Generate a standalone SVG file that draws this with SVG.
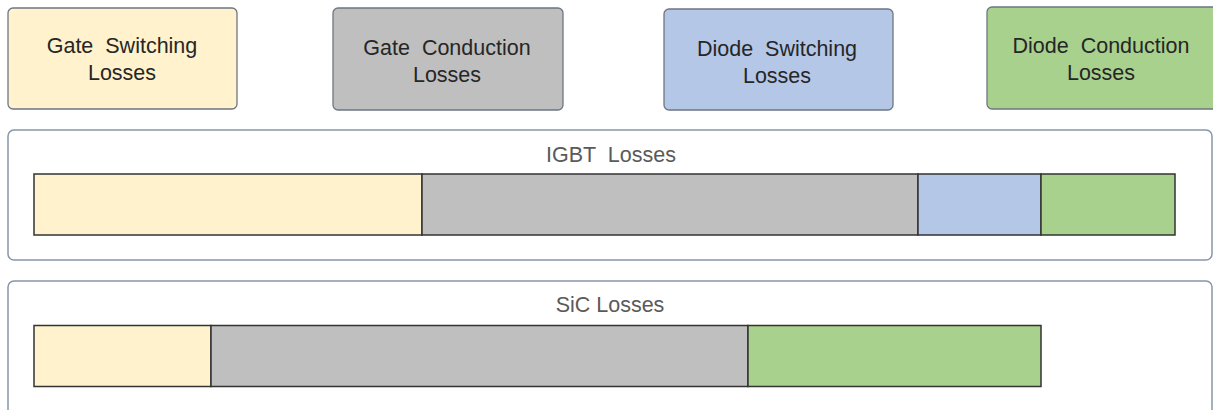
<svg xmlns="http://www.w3.org/2000/svg" width="1213" height="410" viewBox="0 0 1213 410">
<style>
.box{stroke:#6e7683;stroke-width:1.3}
.cont{fill:#ffffff;stroke:#8796ab;stroke-width:1.5}
.seg{stroke:#333333;stroke-width:1.5}
.y{fill:#fff2cc}.g{fill:#bfbfbf}.b{fill:#b4c7e7}.gr{fill:#a9d18e}
.t{font-family:"Liberation Sans",Arial,sans-serif;font-size:21.5px;fill:#262626;text-anchor:middle}
.h{font-family:"Liberation Sans",Arial,sans-serif;font-size:21.5px;fill:#5a5a5a;text-anchor:middle}
</style>
<rect width="1213" height="410" fill="#ffffff"/>
<g id="legend-gate-switching">
<rect class="box y" x="8" y="8" width="229" height="101" rx="5"/>
<text class="t" x="122" y="53" xml:space="preserve">Gate  Switching</text>
<text class="t" x="122" y="80">Losses</text>
</g>
<g id="legend-gate-conduction">
<rect class="box g" x="333" y="8" width="230" height="102" rx="5"/>
<text class="t" x="447" y="55" xml:space="preserve">Gate  Conduction</text>
<text class="t" x="447" y="81.5">Losses</text>
</g>
<g id="legend-diode-switching">
<rect class="box b" x="664" y="9" width="229" height="101" rx="5"/>
<text class="t" x="777" y="56" xml:space="preserve">Diode  Switching</text>
<text class="t" x="777" y="82.5">Losses</text>
</g>
<g id="legend-diode-conduction">
<rect class="box gr" x="987" y="7" width="235" height="102" rx="5"/>
<text class="t" x="1101" y="53" xml:space="preserve">Diode  Conduction</text>
<text class="t" x="1101" y="80">Losses</text>
</g>
<g id="igbt">
<rect class="cont" x="8" y="130" width="1204" height="130" rx="6"/>
<text class="h" x="611" y="161.5" xml:space="preserve">IGBT  Losses</text>
<rect class="seg y" x="34" y="174" width="388" height="61"/>
<rect class="seg g" x="422" y="174" width="496" height="61"/>
<rect class="seg b" x="918" y="174" width="123" height="61"/>
<rect class="seg gr" x="1041" y="174" width="134" height="61"/>
</g>
<g id="sic">
<rect class="cont" x="8" y="281" width="1204" height="150" rx="6"/>
<text class="h" x="610" y="311.5">SiC Losses</text>
<rect class="seg y" x="34" y="325.5" width="177" height="61"/>
<rect class="seg g" x="211" y="325.5" width="537" height="61"/>
<rect class="seg gr" x="748" y="325.5" width="293" height="61"/>
</g>
<g id="connectors"/>
</svg>
